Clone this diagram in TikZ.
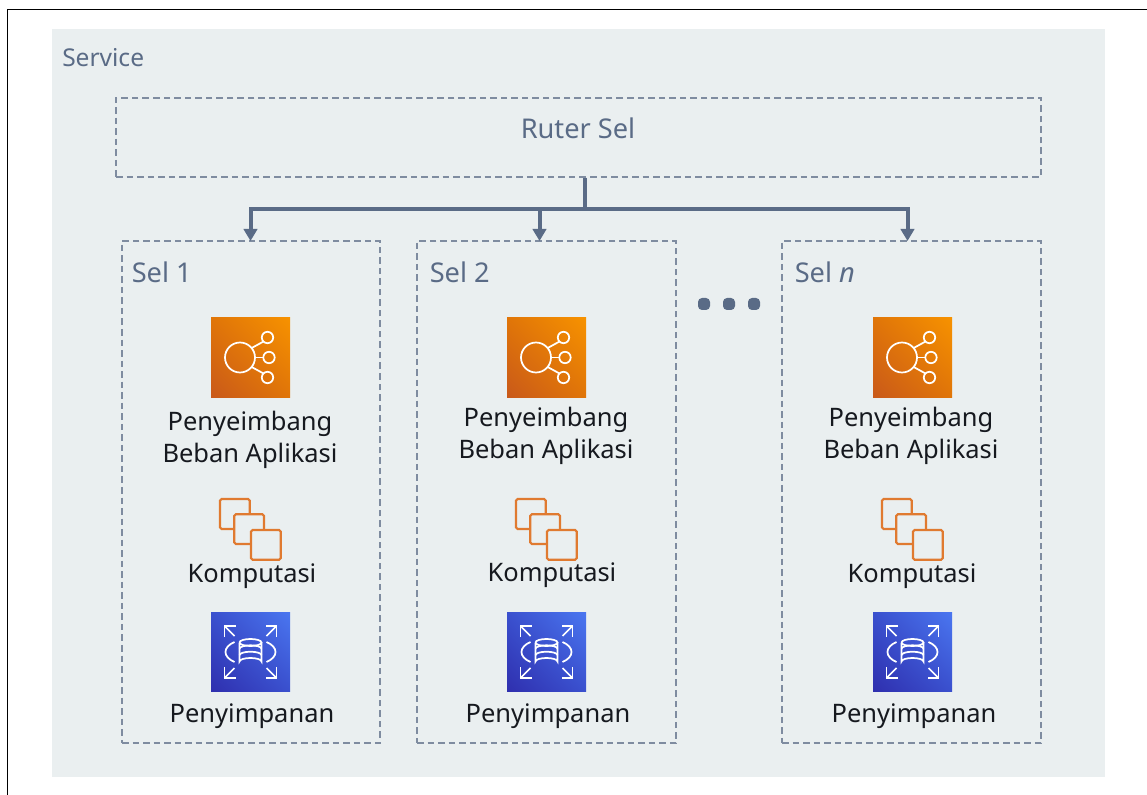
\documentclass[tikz,border=0pt]{standalone}
\usepackage{fontspec}
\setmainfont{Noto Sans}
\usetikzlibrary{arrows.meta,shadings}
\definecolor{panelbg}{HTML}{EAEFF0}
\definecolor{slate}{HTML}{5A6B86}
\definecolor{dashc}{HTML}{7F8CA0}
\definecolor{ink}{HTML}{16191F}
\definecolor{computeor}{HTML}{E07A30}
\definecolor{albA}{HTML}{C9591A}
\definecolor{albB}{HTML}{F79200}
\definecolor{albC}{HTML}{E07508}
\definecolor{dbA}{HTML}{2F2FAE}
\definecolor{dbB}{HTML}{4A76F0}
\definecolor{dbC}{HTML}{3A50CE}
\tikzset{
  x=0.75pt,y=-0.75pt,
  panel/.style={fill=panelbg,draw=none,minimum width={1053*0.75pt},minimum height={748*0.75pt},inner sep=0pt},
  dashbox/.style={draw=dashc,line width=1.05pt,dash pattern=on 4.9pt off 3pt,inner sep=0pt},
  grouplabel/.style={text=slate,font=\fontsize{20.4}{23}\selectfont,anchor=base west,inner sep=0pt},
  itemlabel/.style={text=ink,font=\fontsize{19.1}{23}\selectfont,anchor=base,inner sep=0pt},
  iconsq/.style={minimum size={79*0.75pt},inner sep=0pt,draw=none},
  albicon/.style={iconsq,lower left=albA,upper right=albB,lower right=albC,upper left=albC},
  dbicon/.style={iconsq,lower left=dbA,upper right=dbB,lower right=dbC,upper left=dbC},
  glyph/.style={draw=white,line width=1.3pt,fill=none},
  cglyph/.style={draw=computeor,line width=1.6pt,rounded corners=1.2pt,fill=none},
  wire/.style={draw=slate,line width=3pt},
  wirearrow/.style={wire,-{Triangle[length=9pt,width=10pt]}},
}
\newcommand{\albglyph}[3]{%
  \node[albicon,shade] (#1) at (#2,#3) {};
  \begin{scope}[shift={(#2,#3)}]
    \draw[glyph] (-10.5,0) circle (15);
    \draw[glyph] (17,-20) circle (5.7);
    \draw[glyph] (18.5,0) circle (5.7);
    \draw[glyph] (17,20) circle (5.7);
    \draw[glyph] (1.2,-9.5) -- (13,-16);
    \draw[glyph] (4.5,0) -- (12.8,0);
    \draw[glyph] (1.2,9.5) -- (13,16);
  \end{scope}}
\newcommand{\compglyph}[3]{%
  \coordinate (#1) at (#2,#3);
  \begin{scope}[shift={(#2,#3)}]
    \draw[cglyph] (-16.2,0) -- (-30.5,0) -- (-30.5,-30) -- (-0.8,-30) -- (-0.8,-14.7);
    \draw[cglyph] (0.5,15) -- (-16.2,15) -- (-16.2,-14.7) -- (13.5,-14.7) -- (13.5,1);
    \draw[cglyph] (0.5,1) rectangle (30.2,30.7);
  \end{scope}}
\newcommand{\cornerarrow}[2]{%
  \draw[glyph] (#1*16,#2*16) -- (#1*26,#2*26);
  \draw[glyph] (#1*26,#2*15) -- (#1*26,#2*26) -- (#1*15,#2*26);}
\newcommand{\dbglyph}[3]{%
  \node[dbicon,shade] (#1) at (#2,#3) {};
  \begin{scope}[shift={(#2,#3)}]
    \draw[glyph] (-11,-9.5) arc[start angle=180,end angle=540,x radius=11,y radius=3.5];
    \draw[glyph] (-11,-9.5) -- (-11,9.5) arc[start angle=180,end angle=360,x radius=11,y radius=3.5] -- (11,-9.5);
    \draw[glyph] (-11,-3.2) arc[start angle=180,end angle=360,x radius=11,y radius=3.5];
    \draw[glyph] (-11,3.2) arc[start angle=180,end angle=360,x radius=11,y radius=3.5];
    \draw[glyph] (-16,-10) .. controls (-28,-5) and (-28,5) .. (-16,10);
    \draw[glyph] (16,-10) .. controls (28,-5) and (28,5) .. (16,10);
    \cornerarrow{-1}{-1}\cornerarrow{1}{-1}\cornerarrow{-1}{1}\cornerarrow{1}{1}
  \end{scope}}
\begin{document}
\begin{tikzpicture}
\useasboundingbox (0,0) rectangle (1147,795);
\fill[white] (0,0) rectangle (1147,795);
\draw[black,line width=1.2pt] (1147,9.5) -- (7.5,9.5) -- (7.5,795);
\node[panel] (service) at (578.5,403) {};
\node[grouplabel,font=\fontsize{18.4}{21}\selectfont] (servicelabel) at (62,67) {Service};
\node[dashbox,minimum width={925*0.75pt},minimum height={79*0.75pt}] (router) at (578.5,137.5) {};
\node[text=slate,font=\fontsize{20.4}{23}\selectfont,anchor=base,inner sep=0pt] (routerlabel) at (578,139) {Ruter Sel};
\node[dashbox,minimum width={258*0.75pt},minimum height={502*0.75pt}] (cell1) at (251,492) {};
\node[dashbox,minimum width={259*0.75pt},minimum height={502*0.75pt}] (cell2) at (546.5,492) {};
\node[dashbox,minimum width={259*0.75pt},minimum height={502*0.75pt}] (celln) at (911.5,492) {};
\node[grouplabel] (sel1) at (131.5,282.5) {Sel 1};
\node[grouplabel] (sel2) at (429.5,282.5) {Sel 2};
\node[grouplabel] (seln) at (794.5,282.5) {Sel \textit{n}};
\coordinate (junction) at (585,209.5);
\coordinate (in1) at (250.5,241);
\coordinate (in2) at (539.5,241);
\coordinate (inn) at (907.5,241);
\draw[wire] (router.south -| junction) -- (junction);
\draw[wirearrow] (junction) -| (in1);
\draw[wirearrow] (junction) -| (in2);
\draw[wirearrow] (junction) -| (inn);
\foreach \nm/\dx in {dotA/704,dotB/729,dotC/754}
  \node[fill=slate,draw=none,minimum size={12*0.75pt},inner sep=0pt,rounded corners=3pt] (\nm) at (\dx,304) {};
% cell 1
\albglyph{alb1}{250.5}{357.5}
\node[itemlabel] (p1) at (250,430.7) {Penyeimbang};
\node[itemlabel] (b1) at (250,462.7) {Beban Aplikasi};
\compglyph{c1}{250.5}{529}
\node[itemlabel] (k1) at (252,582.2) {Komputasi};
\dbglyph{d1}{250.5}{652}
\node[itemlabel] (s1) at (252,722.2) {Penyimpanan};
% cell 2
\albglyph{alb2}{546.5}{357.5}
\node[itemlabel] (p2) at (546,426.7) {Penyeimbang};
\node[itemlabel] (b2) at (546,458.7) {Beban Aplikasi};
\compglyph{c2}{546.5}{529}
\node[itemlabel] (k2) at (552,581.2) {Komputasi};
\dbglyph{d2}{546.5}{652}
\node[itemlabel] (s2) at (548,722.2) {Penyimpanan};
% cell n
\albglyph{albn}{912.5}{357.5}
\node[itemlabel] (pn) at (911,426.7) {Penyeimbang};
\node[itemlabel] (bn) at (911,458.7) {Beban Aplikasi};
\compglyph{cn}{912.5}{529}
\node[itemlabel] (kn) at (912,582.2) {Komputasi};
\dbglyph{dn}{912.5}{652}
\node[itemlabel] (sn) at (914,722.2) {Penyimpanan};
\end{tikzpicture}
\end{document}
